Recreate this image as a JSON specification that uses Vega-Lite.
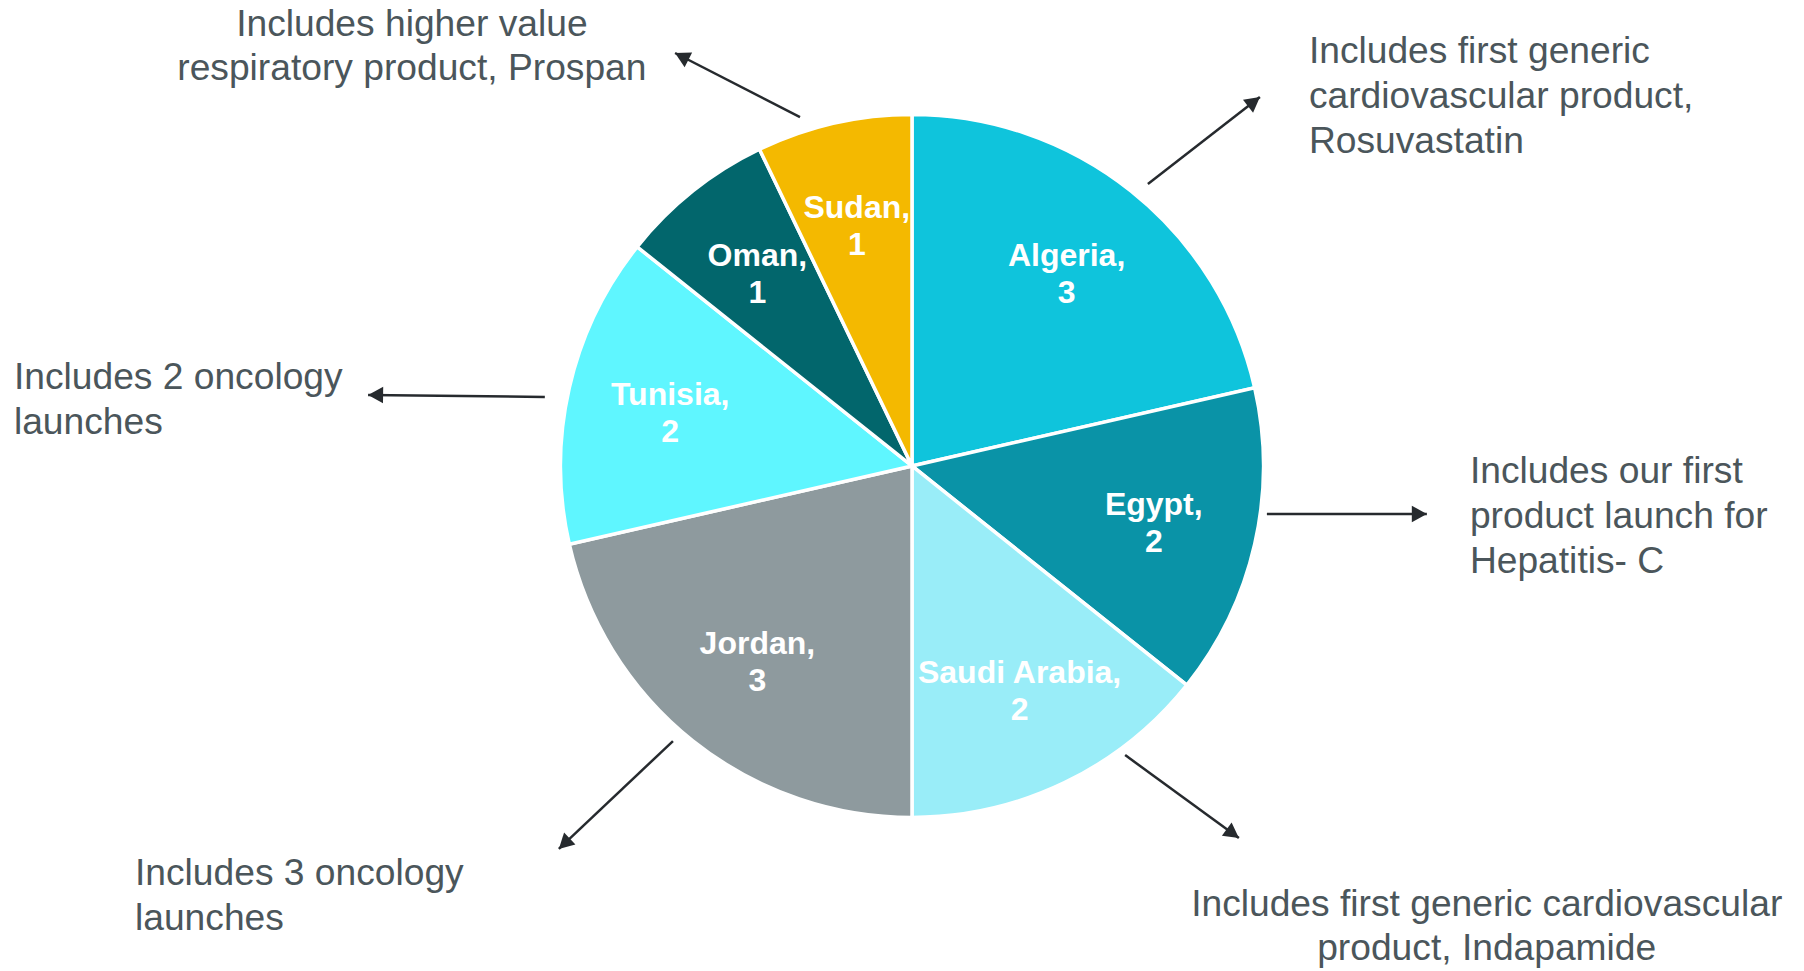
{
  "$schema": "https://vega.github.io/schema/vega-lite/v6.json",
  "width": 1804,
  "height": 971,
  "autosize": {"type": "none"},
  "padding": 0,
  "background": "white",
  "config": {"view": {"stroke": null}, "font": "Liberation Sans"},
  "datasets": {
    "slices": [
      {"seq": 1, "country": "Algeria", "launches": 3, "label": "Algeria,\n3"},
      {"seq": 2, "country": "Egypt", "launches": 2, "label": "Egypt,\n2"},
      {"seq": 3, "country": "Saudi Arabia", "launches": 2, "label": "Saudi Arabia,\n2"},
      {"seq": 4, "country": "Jordan", "launches": 3, "label": "Jordan,\n3"},
      {"seq": 5, "country": "Tunisia", "launches": 2, "label": "Tunisia,\n2"},
      {"seq": 6, "country": "Oman", "launches": 1, "label": "Oman,\n1"},
      {"seq": 7, "country": "Sudan", "launches": 1, "label": "Sudan,\n1"}
    ],
    "notesLeft": [
      {"x": 1.134, "y": 1.183, "note": "Includes first generic\ncardiovascular product,\nRosuvastatin"},
      {"x": -2.566, "y": 0.25, "note": "Includes 2 oncology\nlaunches"},
      {"x": 1.594, "y": -0.016, "note": "Includes our first\nproduct launch for\nHepatitis- C"},
      {"x": -2.22, "y": -1.167, "note": "Includes 3 oncology\nlaunches"}
    ],
    "notesCenter": [
      {"x": -1.429, "y": 1.259, "note": "Includes higher value\nrespiratory product, Prospan"},
      {"x": 1.642, "y": -1.254, "note": "Includes first generic cardiovascular\nproduct, Indapamide"}
    ],
    "arrows": [
      {"x1": -0.32, "y1": 0.997, "x2": -0.677, "y2": 1.18},
      {"x1": 0.674, "y1": 0.806, "x2": 0.994, "y2": 1.054},
      {"x1": -1.049, "y1": 0.197, "x2": -1.554, "y2": 0.203},
      {"x1": 1.014, "y1": -0.137, "x2": 1.471, "y2": -0.137},
      {"x1": -0.683, "y1": -0.786, "x2": -1.009, "y2": -1.094},
      {"x1": 0.609, "y1": -0.826, "x2": 0.934, "y2": -1.063}
    ]
  },
  "layer": [
    {
      "data": {"name": "slices"},
      "mark": {"type": "arc", "outerRadius": 351.5, "stroke": "white", "strokeWidth": 3.5},
      "encoding": {
        "theta": {"field": "launches", "type": "quantitative", "stack": true},
        "order": {"field": "seq", "type": "quantitative"},
        "color": {
          "field": "country",
          "type": "nominal",
          "scale": {
            "domain": ["Algeria", "Egypt", "Saudi Arabia", "Jordan", "Tunisia", "Oman", "Sudan"],
            "range": ["#0fc4dc", "#0a93a7", "#99edf8", "#8e9a9e", "#5ff6ff", "#02666c", "#f4b900"]
          },
          "legend": null
        },
        "x": {"datum": 0, "type": "quantitative", "scale": {"domain": [-2.6057, 2.5486], "nice": false, "zero": false}, "axis": null},
        "y": {"datum": 0, "type": "quantitative", "scale": {"domain": [-1.4429, 1.3314], "nice": false, "zero": false}, "axis": null}
      }
    },
    {
      "data": {"name": "slices"},
      "mark": {"type": "text", "radius": 248, "dy": -16, "fontSize": 32, "fontWeight": "bold", "fill": "white", "lineBreak": "\n", "lineHeight": 37, "align": "center", "baseline": "middle"},
      "encoding": {
        "theta": {"field": "launches", "type": "quantitative", "stack": true},
        "order": {"field": "seq", "type": "quantitative"},
        "text": {"field": "label", "type": "nominal"},
        "x": {"datum": 0, "type": "quantitative", "scale": {"domain": [-2.6057, 2.5486], "nice": false, "zero": false}, "axis": null},
        "y": {"datum": 0, "type": "quantitative", "scale": {"domain": [-1.4429, 1.3314], "nice": false, "zero": false}, "axis": null}
      }
    },
    {
      "data": {"name": "notesLeft"},
      "mark": {"type": "text", "fontSize": 37.2, "fill": "#4b565b", "lineBreak": "\n", "lineHeight": 45, "align": "left", "baseline": "middle"},
      "encoding": {
        "x": {"field": "x", "type": "quantitative", "scale": {"domain": [-2.6057, 2.5486], "nice": false, "zero": false}, "axis": null},
        "y": {"field": "y", "type": "quantitative", "scale": {"domain": [-1.4429, 1.3314], "nice": false, "zero": false}, "axis": null},
        "text": {"field": "note", "type": "nominal"}
      }
    },
    {
      "data": {"name": "notesCenter"},
      "mark": {"type": "text", "fontSize": 37.2, "fill": "#4b565b", "lineBreak": "\n", "lineHeight": 44, "align": "center", "baseline": "middle"},
      "encoding": {
        "x": {"field": "x", "type": "quantitative", "scale": {"domain": [-2.6057, 2.5486], "nice": false, "zero": false}, "axis": null},
        "y": {"field": "y", "type": "quantitative", "scale": {"domain": [-1.4429, 1.3314], "nice": false, "zero": false}, "axis": null},
        "text": {"field": "note", "type": "nominal"}
      }
    },
    {
      "data": {"name": "arrows"},
      "mark": {"type": "rule", "stroke": "#262a2e", "strokeWidth": 2.5},
      "encoding": {
        "x": {"field": "x1", "type": "quantitative", "scale": {"domain": [-2.6057, 2.5486], "nice": false, "zero": false}, "axis": null},
        "y": {"field": "y1", "type": "quantitative", "scale": {"domain": [-1.4429, 1.3314], "nice": false, "zero": false}, "axis": null},
        "x2": {"field": "x2"},
        "y2": {"field": "y2"}
      }
    },
    {
      "data": {"name": "arrows"},
      "transform": [{"calculate": "atan2(datum.x2 - datum.x1, datum.y2 - datum.y1) * 180 / PI", "as": "heading"}],
      "mark": {"type": "point", "shape": "M0,0L0.55,1L-0.55,1Z", "filled": true, "fill": "#262a2e", "size": 900, "opacity": 1, "strokeWidth": 0},
      "encoding": {
        "x": {"field": "x2", "type": "quantitative", "scale": {"domain": [-2.6057, 2.5486], "nice": false, "zero": false}, "axis": null},
        "y": {"field": "y2", "type": "quantitative", "scale": {"domain": [-1.4429, 1.3314], "nice": false, "zero": false}, "axis": null},
        "angle": {"field": "heading", "type": "quantitative", "scale": null}
      }
    }
  ]
}
